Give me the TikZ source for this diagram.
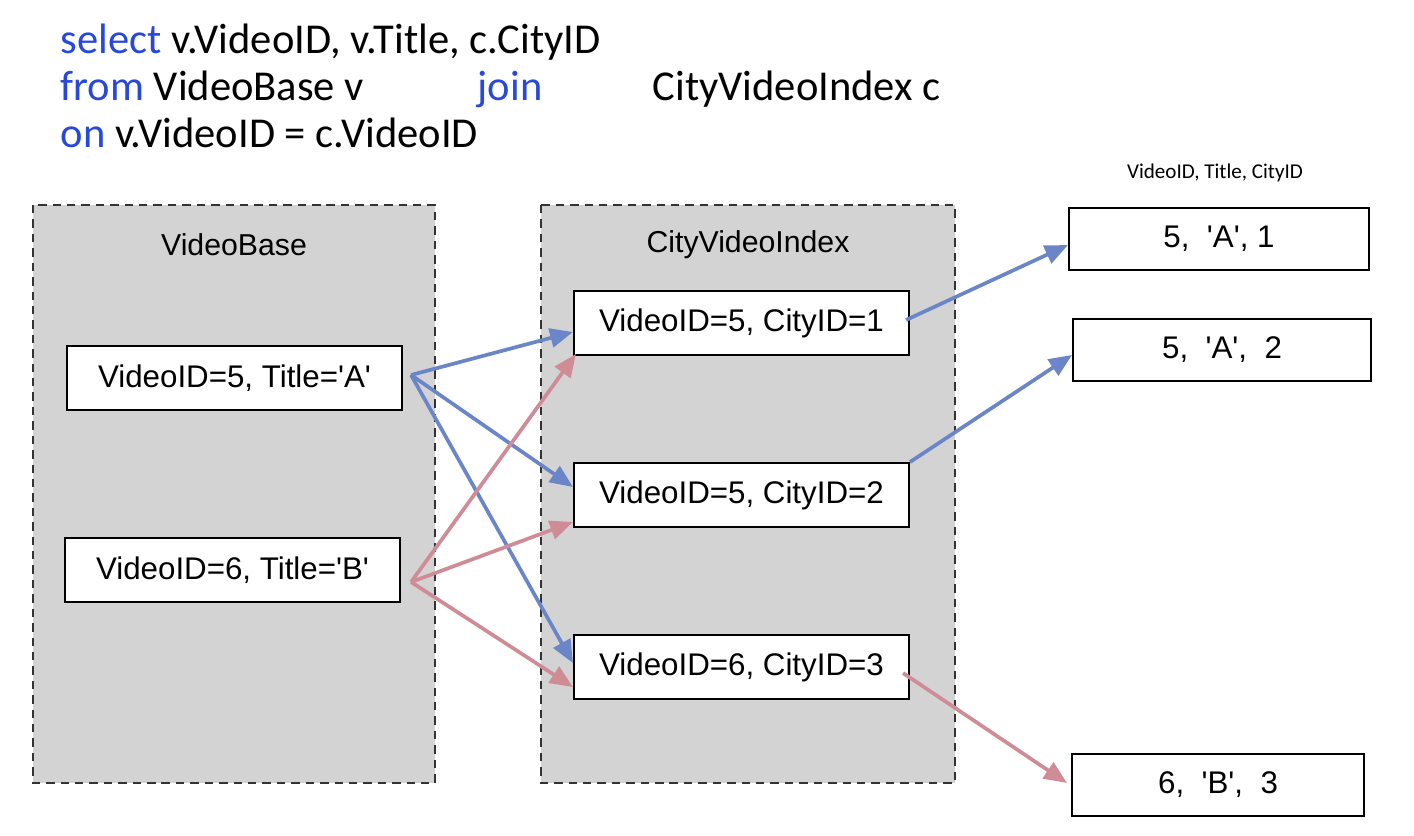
\documentclass[tikz,border=0pt]{standalone}
\usepackage{fontspec}
\setmainfont{Liberation Sans}
\newfontfamily\sqlfont{Carlito}
\usepackage{xcolor}
\usetikzlibrary{arrows.meta,positioning}
\definecolor{sqlBlue}{RGB}{40,72,220}
\definecolor{joinBlue}{RGB}{106,134,200}
\definecolor{joinRed}{RGB}{208,140,150}
\definecolor{tableGray}{RGB}{211,211,211}
\newcommand{\tick}{\textquotesingle}

\begin{document}
\begin{tikzpicture}[x=0.01cm,y=-0.01cm,
    rowbox/.style={draw=black, fill=white, line width=0.55pt, minimum width=3.35cm, minimum height=0.64cm, inner sep=0pt, font=\fontsize{8.9}{10}\selectfont},
    resbox/.style={rowbox, minimum width=3cm, minimum height=0.62cm},
    tablebg/.style={draw=black!80, fill=tableGray, line width=0.6pt, dash pattern=on 2.4pt off 1.7pt},
    bluearr/.style={-{Triangle[length=6.5pt,width=5.4pt]}, joinBlue, line width=1.05pt},
    redarr/.style={bluearr, joinRed},
    sql/.style={anchor=base west, inner sep=0pt, font=\sqlfont\fontsize{12.1}{14}\selectfont}]
    \path[use as bounding box, fill=white] (0,0) rectangle (1414,836);

    \node[sql] (sqlSel) at (60,53) {\textcolor{sqlBlue}{select} v.VideoID, v.Title, c.CityID};
    \node[sql] (sqlFrom) at (60,100) {\textcolor{sqlBlue}{from} VideoBase v};
    \node[sql, text=sqlBlue] (sqlJoin) at (477,100) {join};
    \node[sql] (sqlTab) at (652,100) {CityVideoIndex c};
    \node[sql] (sqlOn) at (60,147) {\textcolor{sqlBlue}{on} v.VideoID = c.VideoID};

    \draw[tablebg] (33,205) rectangle (435,783);
    \draw[tablebg] (541,205) rectangle (955,783);
    \node[font=\fontsize{8.6}{10}\selectfont] (vbTitle) at (234,245) {VideoBase};
    \node[font=\fontsize{8.6}{10}\selectfont] (cviTitle) at (748,245) {CityVideoIndex};
    \node[font=\sqlfont\fontsize{6}{7}\selectfont] (resHead) at (1215,173) {VideoID, Title, CityID};

    \node[rowbox] (vA) at (234.5,378) {VideoID=5, Title=\tick A\tick};
    \node[rowbox] (vB) at (232.5,570) {VideoID=6, Title=\tick B\tick};

    \node[rowbox] (c1) at (741.5,323) {VideoID=5, CityID=1};
    \node[rowbox] (c2) at (741.5,495) {VideoID=5, CityID=2};
    \node[rowbox] (c3) at (741.5,667) {VideoID=6, CityID=3};

    \node[resbox] (r1) at (1219,239) {5,~~\tick A\tick, 1};
    \node[resbox, minimum width=2.98cm] (r2) at (1222,350) {5,~~\tick A\tick,~~2};
    \node[resbox, minimum width=2.92cm] (r3) at (1218,785) {6,~~\tick B\tick,~~3};

    \coordinate (vAout) at ([xshift=0.08cm,yshift=0.03cm]vA.east);
    \coordinate (vBout) at ([xshift=0.1cm,yshift=-0.12cm]vB.east);
    \coordinate (c1out) at ([xshift=-0.04cm,yshift=0.03cm]c1.east);
    \coordinate (c3out) at ([xshift=-0.07cm,yshift=-0.06cm]c3.east);

    \draw[bluearr] (vAout) -- ([yshift=-0.09cm]c1.west);
    \draw[bluearr] (vAout) -- ([yshift=0.08cm]c2.west);
    \draw[bluearr] (vAout) -- ([yshift=0.04cm]c3.west);
    \draw[redarr] (vBout) -- ([xshift=0.03cm,yshift=0.02cm]c1.south west);
    \draw[redarr] (vBout) -- ([yshift=-0.27cm]c2.west);
    \draw[redarr] (vBout) -- ([yshift=-0.2cm]c3.west);

    \draw[bluearr] (c1out) -- ([yshift=-0.06cm]r1.west);
    \draw[bluearr] (c2.north east) -- ([yshift=-0.05cm]r2.west);
    \draw[redarr] (c3out) -- ([xshift=-0.04cm,yshift=0.02cm]r3.west);
\end{tikzpicture}
\end{document}
